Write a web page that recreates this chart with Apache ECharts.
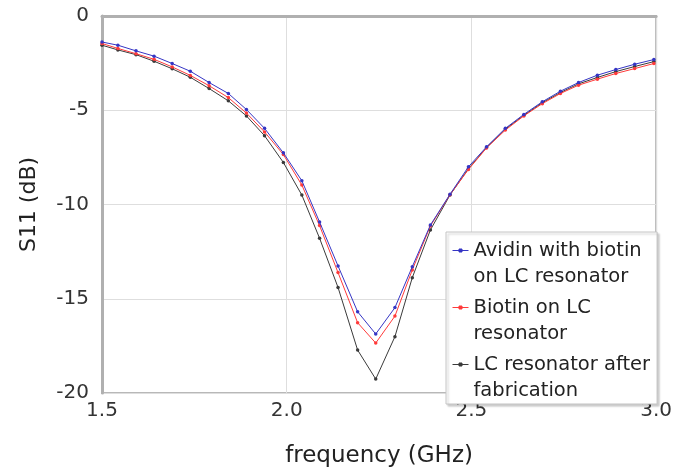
<!DOCTYPE html>
<html>
<head>
<meta charset="utf-8">
<script src="https://cdn.jsdelivr.net/npm/echarts@6/dist/echarts.min.js"></script>
<style>
  html, body { margin: 0; padding: 0; background: #fff; }
  #chart { width: 675px; height: 473px; }
</style>
</head>
<body>
<div id="chart"></div>
<script>
// frequency (GHz) of each sample
const freq = [1.500, 1.543, 1.592, 1.641, 1.690, 1.739, 1.790, 1.842, 1.891, 1.940,
  1.991, 2.041, 2.089, 2.139, 2.192, 2.241, 2.293, 2.340, 2.389, 2.442,
  2.492, 2.541, 2.592, 2.642, 2.692, 2.741, 2.790, 2.841, 2.891, 2.942, 2.994];

// S11 (dB)
const avidinBiotin = [-1.38, -1.55, -1.85, -2.13, -2.52, -2.93, -3.53, -4.11, -4.96, -5.96,
  -7.26, -8.74, -10.93, -13.26, -15.69, -16.87, -15.47, -13.30, -11.09, -9.46,
  -8.00, -6.94, -5.96, -5.22, -4.55, -3.99, -3.53, -3.14, -2.84, -2.56, -2.31];
const biotin = [-1.46, -1.72, -2.00, -2.30, -2.70, -3.15, -3.70, -4.33, -5.15, -6.15,
  -7.35, -8.97, -11.12, -13.61, -16.27, -17.35, -15.92, -13.47, -11.14, -9.48,
  -8.14, -7.00, -6.05, -5.30, -4.65, -4.11, -3.67, -3.35, -3.05, -2.79, -2.52];
const afterFab = [-1.55, -1.80, -2.05, -2.40, -2.80, -3.25, -3.85, -4.50, -5.30, -6.35,
  -7.77, -9.50, -11.79, -14.40, -17.72, -19.26, -17.01, -13.88, -11.35, -9.50,
  -8.10, -6.98, -6.00, -5.27, -4.60, -4.06, -3.60, -3.26, -2.95, -2.68, -2.42];

const names = [
  'Avidin with biotin\non LC resonator',
  'Biotin on LC\nresonator',
  'LC resonator after\nfabrication'
];
const colors = ['#3535c4', '#ff3a3a', '#3a3a3a'];
const values = [avidinBiotin, biotin, afterFab];

const FONT = 'DejaVu Sans';
// legend icon: short line with a dot, drawn at the first text line
const ICON = 'path://M0 0 M0 52 M0 13 L16 13 M6.5 11.5 L9.5 11.5 L9.5 14.5 L6.5 14.5 Z';

const chart = echarts.init(document.getElementById('chart'));

const series = names.map((name, i) => {
  return {
    name: name,
    type: 'line',
    data: freq.map((f, j) => [f, values[i][j]]),
    symbol: 'circle',
    symbolSize: 3.5,
    showSymbol: true,
    lineStyle: { color: colors[i], width: 1 },
    itemStyle: { color: colors[i] },
    z: 3 - i
  };
});

const option = {
  animation: false,
  grid: {
    left: 102,
    right: 13,
    top: 16,
    bottom: 80,
    show: true,
    borderColor: '#b8b8b8',
    borderWidth: 2
  },
  xAxis: {
    type: 'value',
    min: 1.5,
    max: 3.0,
    interval: 0.5,
    name: 'frequency (GHz)',
    nameLocation: 'middle',
    nameGap: 52,
    nameTextStyle: { fontFamily: FONT, fontSize: 23, color: '#222' },
    axisLine: { show: true, lineStyle: { color: '#b0b0b0', width: 3 } },
    axisTick: { show: false },
    axisLabel: {
      margin: 8,
      fontFamily: FONT,
      fontSize: 20,
      color: '#333',
      formatter: (v) => v.toFixed(1)
    },
    splitLine: { show: true, lineStyle: { color: '#dedede', width: 1 } }
  },
  yAxis: {
    type: 'value',
    min: -20,
    max: 0,
    interval: 5,
    name: 'S11 (dB)',
    nameLocation: 'middle',
    nameGap: 62,
    nameTextStyle: { fontFamily: FONT, fontSize: 22, color: '#222' },
    axisLine: { show: true, lineStyle: { color: '#b0b0b0', width: 3 } },
    axisTick: { show: false },
    axisLabel: { margin: 13, fontFamily: FONT, fontSize: 20, color: '#333' },
    splitLine: { show: true, lineStyle: { color: '#dedede', width: 1 } }
  },
  legend: {
    orient: 'vertical',
    left: 446,
    top: 232,
    padding: [5, 7, 0, 6],
    itemWidth: 16,
    itemHeight: 52,
    itemGap: 4,
    backgroundColor: '#fff',
    borderColor: '#c4c4c4',
    borderWidth: 1,
    shadowColor: 'rgba(0,0,0,0.2)',
    shadowBlur: 2,
    shadowOffsetX: 2,
    shadowOffsetY: 2,
    textStyle: { fontFamily: FONT, fontSize: 19.5, lineHeight: 26, color: '#222' },
    data: names.map((n, i) => ({
      name: n,
      icon: ICON,
      itemStyle: { color: colors[i], borderColor: colors[i], borderWidth: 1 }
    }))
  },
  series: series
};

chart.setOption(option);
</script>
</body>
</html>
